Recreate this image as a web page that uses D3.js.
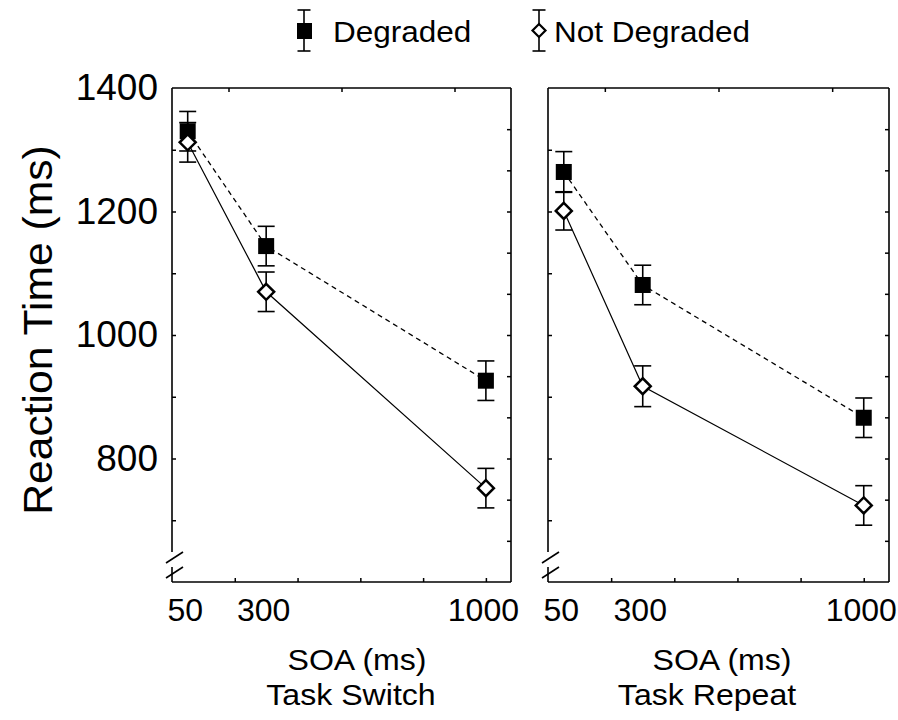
<!DOCTYPE html>
<html>
<head>
<meta charset="utf-8">
<script src="https://cdn.jsdelivr.net/npm/d3@7"></script>
<style>
  body { margin: 0; background: #fff; }
  svg { display: block; font-family: "Liberation Sans", Arial, sans-serif; }
</style>
</head>
<body>
<svg id="chart" width="898" height="720"></svg>
<script>
// SOA levels (ms)
var soa = [50, 300, 1000];

// mean RT (ms), task switch panel
var switchDegraded = [1330, 1144, 926];
var switchDegradedErr = [32, 32, 32];
var switchNotDegraded = [1312, 1070, 752];
var switchNotDegradedErr = [32, 32, 32];

// mean RT (ms), task repeat panel
var repeatDegraded = [1264, 1081, 866];
var repeatDegradedErr = [33, 32, 32];
var repeatNotDegraded = [1201, 917, 724];
var repeatNotDegradedErr = [31, 33, 32];

var yTicks = [800, 1000, 1200, 1400];
var panelTitles = ['Task Switch', 'Task Repeat'];

var svg = d3.select('#chart');
var plotTop = 88, plotBottom = 582;

var y = d3.scaleLinear().domain([600, 1400]).range([plotBottom, plotTop]);

function stretchText(g, x, yy, txt, size, sx, anchor) {
  return g.append('text')
    .attr('transform', 'translate(' + x + ',' + yy + ') scale(' + sx + ',1)')
    .attr('text-anchor', anchor || 'middle')
    .style('font-size', size + 'px')
    .text(txt);
}

function diamond(r) {
  return 'M0,' + (-r) + 'L' + r + ',0L0,' + r + 'L' + (-r) + ',0Z';
}

function drawPanel(x0, x1, deg, degErr, nd, ndErr, title, titleCx, soaCx) {
  var x = d3.scaleLinear().domain([0, 1080]).range([x0, x1]);
  var g = svg.append('g');

  // inward ticks on all four sides
  g.append('g').attr('transform', 'translate(0,' + plotBottom + ')')
    .call(d3.axisBottom(x).tickValues([200, 400, 600, 800, 1000]).tickSize(-4).tickFormat(''));
  g.append('g').attr('transform', 'translate(0,' + plotTop + ')')
    .call(d3.axisTop(x).tickValues([180, 540, 900]).tickSize(-4).tickFormat(''));
  g.append('g').attr('transform', 'translate(' + x0 + ',0)')
    .call(d3.axisLeft(y).tickValues(d3.range(700, 1400, 100)).tickSize(-4).tickFormat(''));
  g.append('g').attr('transform', 'translate(' + x1 + ',0)')
    .call(d3.axisRight(y).tickValues(d3.range(1, 12).map(function(k) { return 600 + k * 800 / 12; }))
      .tickSize(-4).tickFormat(''));
  g.selectAll('.domain').remove();
  g.selectAll('.tick line').attr('stroke', '#000').attr('stroke-width', 1.5);

  // x tick labels
  var xl = g.append('g').attr('transform', 'translate(0,' + plotBottom + ')')
    .call(d3.axisBottom(x).tickValues(soa).tickSize(0).tickPadding(16).tickFormat(d3.format('d')));
  xl.select('.domain').remove();
  xl.selectAll('text')
    .attr('dx', -3)
    .style('font-size', '32px')
    .style('font-family', '"Liberation Sans", Arial, sans-serif')
    .attr('fill', '#000');

  // frame with axis break at the bottom left
  var frame = [
    [x0, plotTop, x1, plotTop],
    [x1, plotTop, x1, plotBottom],
    [x0, plotBottom, x1, plotBottom],
    [x0, plotTop, x0, plotBottom - 30],
    [x0, plotBottom - 15, x0, plotBottom],
    [x0 - 6, plotBottom - 19, x0 + 11, plotBottom - 30],
    [x0 - 6, plotBottom - 4, x0 + 11, plotBottom - 15]
  ];
  g.selectAll('line.frame').data(frame).enter().append('line')
    .attr('class', 'frame')
    .attr('x1', function(d) { return d[0]; })
    .attr('y1', function(d) { return d[1]; })
    .attr('x2', function(d) { return d[2]; })
    .attr('y2', function(d) { return d[3]; })
    .attr('stroke', '#000').attr('stroke-width', 1.6);

  var line = d3.line()
    .x(function(d, i) { return x(soa[i]); })
    .y(function(d) { return y(d); });

  g.append('path').datum(deg).attr('d', line)
    .attr('fill', 'none').attr('stroke', '#000').attr('stroke-width', 1.3)
    .attr('stroke-dasharray', '5,4');
  g.append('path').datum(nd).attr('d', line)
    .attr('fill', 'none').attr('stroke', '#000').attr('stroke-width', 1.2);

  // error bars
  var bars = [];
  soa.forEach(function(s, i) {
    bars.push({ s: s, v: deg[i], e: degErr[i] });
    bars.push({ s: s, v: nd[i], e: ndErr[i] });
  });
  var eb = g.selectAll('g.eb').data(bars).enter().append('g').attr('class', 'eb');
  eb.append('line')
    .attr('x1', function(d) { return x(d.s); }).attr('x2', function(d) { return x(d.s); })
    .attr('y1', function(d) { return y(d.v - d.e); }).attr('y2', function(d) { return y(d.v + d.e); });
  eb.append('line')
    .attr('x1', function(d) { return x(d.s) - 8.5; }).attr('x2', function(d) { return x(d.s) + 8.5; })
    .attr('y1', function(d) { return y(d.v + d.e); }).attr('y2', function(d) { return y(d.v + d.e); });
  eb.append('line')
    .attr('x1', function(d) { return x(d.s) - 8.5; }).attr('x2', function(d) { return x(d.s) + 8.5; })
    .attr('y1', function(d) { return y(d.v - d.e); }).attr('y2', function(d) { return y(d.v - d.e); });
  eb.selectAll('line').attr('stroke', '#000').attr('stroke-width', 1.6);

  // markers
  g.selectAll('rect.deg').data(deg).enter().append('rect')
    .attr('class', 'deg')
    .attr('x', function(d, i) { return x(soa[i]) - 8; })
    .attr('y', function(d) { return y(d) - 8; })
    .attr('width', 16).attr('height', 16)
    .attr('fill', '#000');
  g.selectAll('path.nd').data(nd).enter().append('path')
    .attr('class', 'nd')
    .attr('transform', function(d, i) { return 'translate(' + x(soa[i]) + ',' + y(d) + ')'; })
    .attr('d', diamond(8))
    .attr('fill', '#fff').attr('stroke', '#000').attr('stroke-width', 2.5);

  stretchText(g, soaCx, 670, 'SOA (ms)', 30, 1.07);
  stretchText(g, titleCx, 705, title, 30, 1.07);
}

drawPanel(172, 511, switchDegraded, switchDegradedErr, switchNotDegraded, switchNotDegradedErr,
  panelTitles[0], 351, 357);
drawPanel(548, 889, repeatDegraded, repeatDegradedErr, repeatNotDegraded, repeatNotDegradedErr,
  panelTitles[1], 707, 722);

// y axis labels (left panel only)
var yl = svg.append('g').attr('transform', 'translate(172,0)')
  .call(d3.axisLeft(y).tickValues(yTicks).tickSize(0).tickPadding(14).tickFormat(d3.format('d')));
yl.select('.domain').remove();
yl.selectAll('text')
  .style('font-size', '37px')
  .style('font-family', '"Liberation Sans", Arial, sans-serif')
  .attr('fill', '#000');

svg.append('text')
  .attr('transform', 'translate(52,330) rotate(-90) scale(1.04,1)')
  .attr('text-anchor', 'middle')
  .style('font-size', '41px')
  .text('Reaction Time (ms)');

// legend
var legend = svg.append('g');
function legendBar(cx) {
  legend.append('line').attr('x1', cx).attr('x2', cx).attr('y1', 10).attr('y2', 51);
  legend.append('line').attr('x1', cx - 6.5).attr('x2', cx + 6.5).attr('y1', 10).attr('y2', 10);
  legend.append('line').attr('x1', cx - 6.5).attr('x2', cx + 6.5).attr('y1', 51).attr('y2', 51);
}
legendBar(304);
legendBar(539);
legend.selectAll('line').attr('stroke', '#000').attr('stroke-width', 1.6);
legend.append('rect').attr('x', 297).attr('y', 23).attr('width', 15).attr('height', 16).attr('fill', '#000');
legend.append('path').attr('transform', 'translate(539,30.5)').attr('d', diamond(6.5))
  .attr('fill', '#fff').attr('stroke', '#000').attr('stroke-width', 2.2);
stretchText(legend, 333, 42, 'Degraded', 30, 1.05, 'start');
stretchText(legend, 554, 42, 'Not Degraded', 30, 1.05, 'start');
</script>
</body>
</html>
